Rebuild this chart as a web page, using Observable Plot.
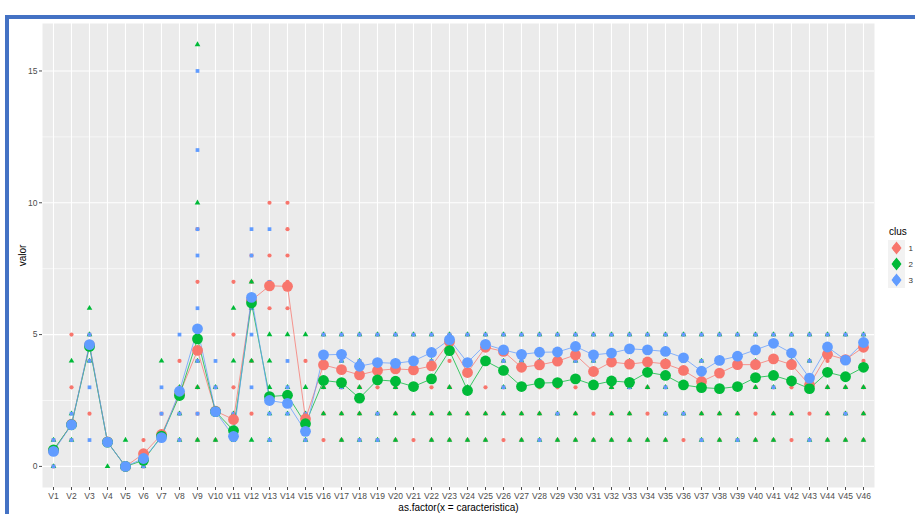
<!DOCTYPE html>
<html>
<head>
<meta charset="utf-8">
<script src="https://cdn.jsdelivr.net/npm/d3@7"></script>
<script src="https://cdn.jsdelivr.net/npm/@observablehq/plot@0.6"></script>
<style>
  html, body { margin: 0; padding: 0; background: #fff; }
  #page { position: relative; width: 915px; height: 514px; overflow: hidden;
          font-family: "Liberation Sans", Arial, sans-serif; }
  #chart { position: absolute; left: 0; top: 0; }
  #border { position: absolute; left: 5px; top: 15px; right: -20px; bottom: -20px;
            border-top: 4px solid #4472C4; border-left: 4px solid #4472C4; pointer-events: none; }
  #legend { position: absolute; left: 884px; top: 220px; }
</style>
</head>
<body>
<div id="page">
  <div id="chart"></div>
  <div id="border"></div>
  <div id="legend"></div>
</div>
<script>
// Variables V1..V46 on the x axis
const variables = ["V1","V2","V3","V4","V5","V6","V7","V8","V9","V10","V11","V12","V13","V14","V15",
  "V16","V17","V18","V19","V20","V21","V22","V23","V24","V25","V26","V27","V28","V29","V30","V31",
  "V32","V33","V34","V35","V36","V37","V38","V39","V40","V41","V42","V43","V44","V45","V46"];

const clusters = ["1", "2", "3"];
const clusterColors = ["#F8766D", "#00BA38", "#619CFF"];
const clusterShapes = ["circle", "triangle", "square"];
const yTicks = [0, 5, 10, 15];

// Cluster means per variable
const mean1 = [0.60, 1.60, 4.60, 0.93, 0.00, 0.48, 1.21, 2.75, 4.40, 2.10, 1.78, 6.30, 6.85, 6.83, 1.80,
  3.85, 3.67, 3.47, 3.64, 3.70, 3.66, 3.81, 4.73, 3.56, 4.52, 4.36, 3.76, 3.85, 3.99, 4.23, 3.60,
  3.96, 3.88, 3.96, 3.89, 3.64, 3.22, 3.54, 3.86, 3.86, 4.08, 3.86, 3.09, 4.25, 4.05, 4.52];
const mean2 = [0.63, 1.58, 4.55, 0.92, 0.00, 0.23, 1.15, 2.69, 4.84, 2.08, 1.36, 6.20, 2.65, 2.70, 1.62,
  3.26, 3.18, 2.59, 3.28, 3.23, 3.03, 3.32, 4.39, 2.88, 4.00, 3.64, 3.03, 3.16, 3.18, 3.32, 3.09,
  3.24, 3.19, 3.57, 3.45, 3.09, 2.99, 2.95, 3.03, 3.37, 3.45, 3.24, 2.95, 3.57, 3.40, 3.76];
const mean3 = [0.57, 1.58, 4.62, 0.92, 0.00, 0.30, 1.09, 2.85, 5.22, 2.08, 1.14, 6.41, 2.50, 2.39, 1.33,
  4.23, 4.25, 3.80, 3.94, 3.91, 4.00, 4.32, 4.81, 3.94, 4.63, 4.42, 4.25, 4.33, 4.34, 4.55, 4.23,
  4.30, 4.46, 4.42, 4.36, 4.12, 3.61, 4.02, 4.18, 4.42, 4.67, 4.30, 3.35, 4.53, 4.03, 4.70];

// Distinct observed answers per variable, one list per cluster
const obs1 = [[0,1],[1,3,5],[2,4,5],[1],[0],[0,1],[1,2],[1,2,3,4],[1,2,3,4,5,7,9],[1,2,3],
  [1,2,3,5,7],[2,4,6,7,8],[6,7,8,10],[6,7,8,9,10],[1,2,4],
  [1,2,3,4,5],[1,2,3,4,5],[1,2,3,4,5],[1,2,3,4,5],[1,2,3,4,5],[1,2,3,4,5],[1,2,3,4,5],[1,2,3,4,5],
  [1,2,3,4,5],[1,2,3,4,5],[1,2,3,4,5],[1,2,3,4,5],[1,2,3,4,5],[1,2,3,4,5],[1,2,3,4,5],[1,2,3,4,5],
  [1,2,3,4,5],[1,2,3,4,5],[1,2,3,4,5],[1,2,3,4,5],[1,2,3,4,5],[1,2,3,4,5],[1,2,3,4,5],[1,2,3,4,5],
  [1,2,3,4,5],[1,2,3,4,5],[1,2,3,4,5],[1,2,3,4,5],[1,2,3,4,5],[1,2,3,4,5],[1,2,3,4,5]];
const obs2 = [[0,1],[1,2,4],[4,5,6],[0,1],[0,1],[0],[1,4],[1,2,3],[1,3,4,5,10,16],[1,2,3],
  [1,2,4,6],[1,4,6,7],[1,2,3,4,5],[2,3,5],[1,2,3,5],
  [2,3,4,5],[1,2,3,4,5],[1,2,3,4,5],[1,2,4,5],[1,2,3,4,5],[2,3,4,5],[1,2,4,5],[1,2,3,5],
  [1,2,3,5],[1,2,4,5],[2,3,4,5],[1,2,3,4,5],[1,2,4,5],[1,2,4,5],[1,2,4,5],[1,3,4,5],
  [1,2,3,4,5],[1,2,3,4,5],[1,3,4,5],[1,2,3,4,5],[2,3,4,5],[1,2,4,5],[1,2,4,5],[1,2,3,4,5],
  [1,3,4,5],[1,2,3,4,5],[2,4,5],[1,3,4,5],[1,2,3,5],[1,2,3,4,5],[1,2,3,5]];
const obs3 = [[0,1],[1,2],[1,3,4,5],[1],[0],[0],[1,2,3],[1,2,5],[2,4,5,6,8,9,12,15],[2,3,4],
  [1,2],[3,5,6,8,9],[1,2,7,9],[2,3,4],[1,2],
  [4,5],[3,4,5],[1,4,5],[1,2,4,5],[4,5],[3,4,5],[4,5],[5],
  [5],[4,5],[3,4,5],[4,5],[1,4,5],[2,4,5],[4,5],[3,4,5],
  [4,5],[3,4,5],[4,5],[2,3,4,5],[2,3,4,5],[1,4,5],[4,5],[1,3,4,5],
  [4,5],[3,4,5],[4,5],[1,4,5],[5],[2,4,5],[5]];

const means = [mean1, mean2, mean3];
const observed = [obs1, obs2, obs3];

const answers = clusters.flatMap((c, k) =>
  variables.flatMap((v, i) => observed[k][i].map(val => ({ v, val, clus: c }))));
const meanPoints = clusters.flatMap((c, k) =>
  variables.map((v, i) => ({ v, val: means[k][i], clus: c })));

const chart = Plot.plot({
  width: 915,
  height: 514,
  marginLeft: 42,
  marginRight: 41,
  marginTop: 23,
  marginBottom: 27,
  style: { fontFamily: '"Liberation Sans", Arial, sans-serif', background: "transparent" },
  x: { type: "point", domain: variables, padding: 0.6 },
  y: { domain: [-0.8, 16.8] },
  color: { domain: clusters, range: clusterColors },
  symbol: { domain: clusters, range: clusterShapes },
  marks: [
    Plot.frame({ fill: "#EBEBEB", stroke: null }),
    Plot.ruleY([2.5, 7.5, 12.5], { stroke: "#ffffff", strokeWidth: 0.6 }),
    Plot.ruleY(yTicks, { stroke: "#ffffff", strokeWidth: 1.1 }),
    Plot.ruleX(variables, { stroke: "#ffffff", strokeWidth: 1.1 }),
    Plot.dot(answers, { x: "v", y: "val", fill: "clus", symbol: "clus", r: 2.1, stroke: null }),
    Plot.line(meanPoints, { x: "v", y: "val", stroke: "clus", z: "clus", strokeWidth: 1, strokeOpacity: 0.75 }),
    Plot.dot(meanPoints, { x: "v", y: "val", fill: "clus", r: 5.4, stroke: null }),
    Plot.axisX({ tickSize: 3, tickPadding: 2, fontSize: 8.5, color: "#4D4D4D", label: null }),
    Plot.axisY({ ticks: yTicks, tickSize: 3, tickPadding: 2, fontSize: 8.5, color: "#4D4D4D", label: null }),
    Plot.text(["as.factor(x = caracteristica)"], { frameAnchor: "bottom", dy: 20, fontSize: 10,
      fill: "#000", textAnchor: "middle", lineAnchor: "middle" }),
    Plot.text(["valor"], { frameAnchor: "left", dx: -20, rotate: -90, fontSize: 10,
      fill: "#000", textAnchor: "middle", lineAnchor: "middle" })
  ]
});
document.getElementById("chart").appendChild(chart);

// Legend for the cluster colours
const legend = d3.select("#legend").append("svg")
  .attr("width", 31).attr("height", 80)
  .style("font-family", '"Liberation Sans", Arial, sans-serif');
legend.append("text").attr("x", 5).attr("y", 15).attr("font-size", 10).attr("fill", "#000").text("clus");
clusters.forEach((c, k) => {
  const g = legend.append("g").attr("transform", `translate(4,${20 + k * 16})`);
  g.append("rect").attr("width", 17).attr("height", 16).attr("fill", "#F2F2F2");
  g.append("path").attr("d", "M8.5,1.5 L13.5,8 L8.5,14.5 L3.5,8 Z").attr("fill", clusterColors[k]);
  g.append("circle").attr("cx", 8.5).attr("cy", 8).attr("r", 3.8).attr("fill", clusterColors[k]);
  g.append("text").attr("x", 20.5).attr("y", 11).attr("font-size", 8).attr("fill", "#333").text(c);
});
</script>
</body>
</html>
